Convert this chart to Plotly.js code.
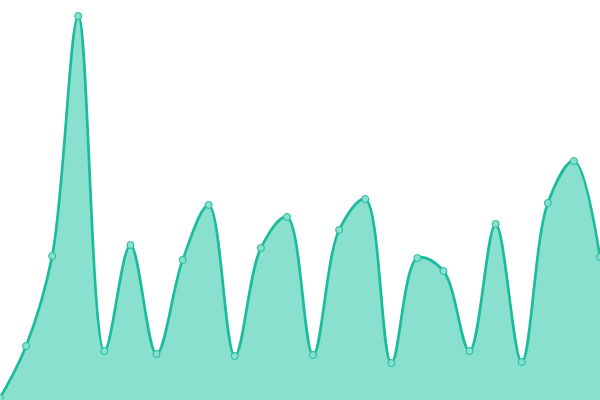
<!DOCTYPE html>
<html>
<head>
<meta charset="utf-8">
<script src="https://cdn.plot.ly/plotly-3.0.1.min.js"></script>
<style>
  html, body { margin: 0; padding: 0; background: #fff; }
  #chart { width: 600px; height: 400px; }
</style>
</head>
<body>
<div id="chart"></div>
<script>
// point index along x, one value per point
var xs = [0, 1, 2, 3, 4, 5, 6, 7, 8, 9, 10, 11, 12, 13, 14, 15, 16, 17, 18, 19, 20, 21, 22, 23];
var values = [0.5, 13.5, 36, 96, 12.25, 38.75, 11.5, 35, 48.75, 11, 38, 45.75,
              11.25, 42.5, 50.25, 9.25, 35.5, 32.25, 12.25, 44, 9.5, 49.25, 59.75, 35.75];

var area = {
  x: xs,
  y: values,
  type: 'scatter',
  mode: 'lines+markers',
  fill: 'tozeroy',
  fillcolor: '#8ae0cf',
  line: { color: '#1abc9c', width: 2.7, shape: 'spline', smoothing: 1 },
  marker: { size: 7, color: '#8ae0cf', line: { color: '#1abc9c', width: 1 } },
  hoverinfo: 'x+y'
};

var layout = {
  width: 600,
  height: 400,
  margin: { l: 0, r: 0, t: 0, b: 0 },
  showlegend: false,
  paper_bgcolor: '#fff',
  plot_bgcolor: '#fff',
  xaxis: { range: [0, 23], visible: false, fixedrange: true },
  yaxis: { range: [0, 100], visible: false, fixedrange: true }
};

Plotly.newPlot('chart', [area], layout, { displayModeBar: false, staticPlot: true });
</script>
</body>
</html>
